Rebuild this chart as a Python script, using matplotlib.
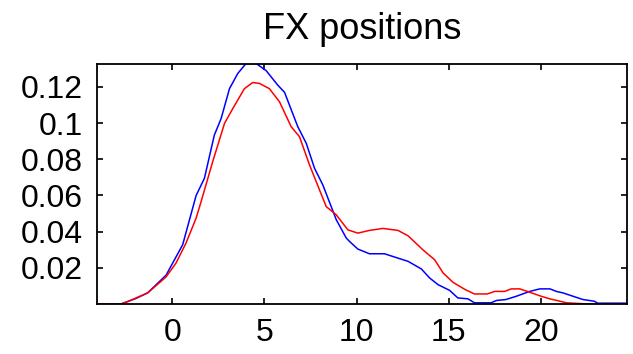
import matplotlib
matplotlib.use("Agg")
from matplotlib import pyplot as plt

# blue series
blue_x = [-4.1, -2.8, -2.0, -1.34, -0.34, 0.56, 1.29, 1.74, 2.28, 2.65, 3.1, 3.55, 4.0, 4.55,
          5.09, 5.72, 6.09, 6.81, 7.27, 7.72, 8.17, 8.9, 9.44, 9.62, 10.07, 10.7, 11.52,
          11.97, 12.8, 13.52, 13.97, 14.43, 15.05, 15.5, 16.05, 16.4, 17.3, 17.6, 18.1,
          18.67, 19.4, 19.95, 20.5, 20.85, 21.2, 21.76, 22.3, 22.9, 23.1, 24.7]
blue_y = [0.0, 0.0, 0.003, 0.0062, 0.016, 0.0328, 0.060, 0.0695, 0.0934, 0.1026, 0.119,
          0.1274, 0.1329, 0.1329, 0.129, 0.121, 0.117, 0.098, 0.0888, 0.075, 0.0658, 0.0466,
          0.0365, 0.0346, 0.0304, 0.0278, 0.0278, 0.0263, 0.0236, 0.0194, 0.0144, 0.0107,
          0.0076, 0.0034, 0.0029, 0.0007, 0.0007, 0.002, 0.0025, 0.0043, 0.007, 0.0084,
          0.0084, 0.007, 0.0062, 0.0043, 0.0025, 0.0016, 0.0005, 0.0005]

# red series
red_x = [-4.1, -2.8, -2.4, -1.34, -0.34, 0.2, 0.74, 1.29, 1.56, 2.19, 2.83, 3.28, 3.91, 4.36,
         4.73, 5.27, 5.82, 6.45, 6.9, 7.45, 8.35, 8.9, 9.53, 10.07, 10.7, 11.43, 12.25,
         12.8, 13.6, 14.24, 14.7, 15.24, 15.9, 16.4, 17.1, 17.5, 18.04, 18.4, 18.86, 19.5,
         20.03, 20.5, 21.4, 22.66, 24.7]
red_y = [0.0, 0.0, 0.0015, 0.0062, 0.015, 0.0227, 0.0337, 0.0475, 0.0566, 0.0787, 0.0998,
         0.108, 0.119, 0.1224, 0.1219, 0.119, 0.1117, 0.098, 0.0925, 0.0768, 0.0539, 0.0493,
         0.041, 0.0392, 0.0407, 0.0418, 0.0407, 0.0377, 0.030, 0.0245, 0.0172, 0.012, 0.008,
         0.0056, 0.0056, 0.007, 0.007, 0.0084, 0.0084, 0.0062, 0.0043, 0.0029, 0.0007, 0.0,
         0.0]

x_ticks = [0, 5, 10, 15, 20]
y_ticks = [0.02, 0.04, 0.06, 0.08, 0.1, 0.12]
y_labels = ["0.02", "0.04", "0.06", "0.08", "0.1", "0.12"]

plt.rcParams["font.family"] = ["Liberation Sans", "DejaVu Sans"]

fig = plt.figure(figsize=(6.33, 3.54), dpi=100)
ax = fig.add_axes([0.153, 0.141, 0.838, 0.678])

ax.plot(blue_x, blue_y, color="#0000ff", linewidth=1.1)
ax.plot(red_x, red_y, color="#ff0000", linewidth=1.1)

ax.set_xlim(-4.1, 24.7)
ax.set_ylim(0, 0.1326)
ax.set_xticks(x_ticks)
ax.set_xticklabels([str(t) for t in x_ticks])
ax.set_yticks(y_ticks)
ax.set_yticklabels(y_labels)
ax.tick_params(direction="in", top=True, right=True, length=4, width=1.2,
               labelsize=23, colors="black")
ax.tick_params(axis="x", pad=10)
ax.tick_params(axis="y", pad=10)
for s in ax.spines.values():
    s.set_linewidth(1.3)

ax.set_title("FX positions", fontsize=26, pad=18)

fig.savefig("out.png", dpi=100)
